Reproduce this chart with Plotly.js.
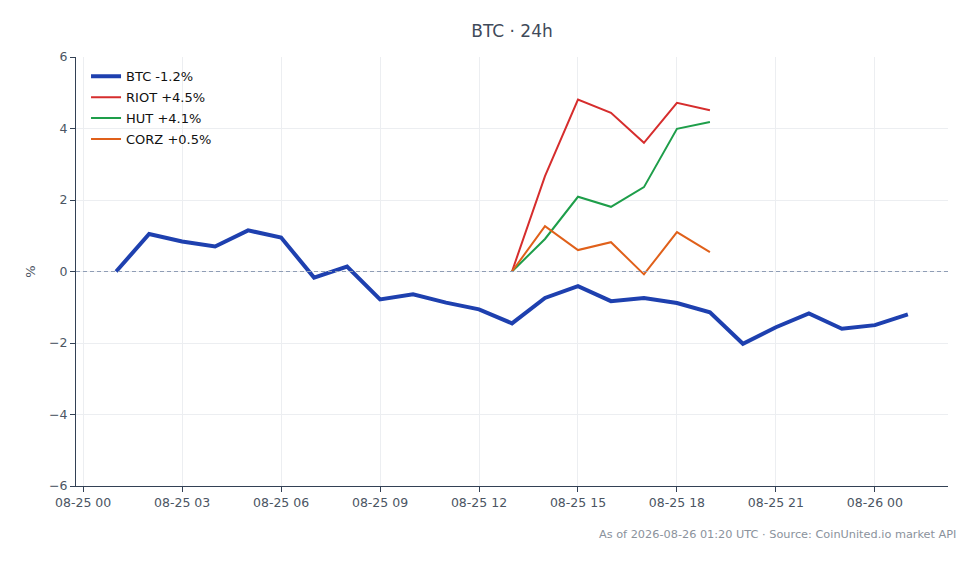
<!DOCTYPE html>
<html>
<head>
<meta charset="utf-8">
<script src="https://cdn.plot.ly/plotly-3.0.1.min.js"></script>
<style>
  html, body { margin: 0; padding: 0; background: #fff; }
  #chart { width: 980px; height: 564px; }
</style>
</head>
<body>
<div id="chart"></div>
<script>
// hourly timestamps, 08-25 01:00 -> 08-26 01:00 (UTC)
const times = [
  '2026-08-25 01:00', '2026-08-25 02:00', '2026-08-25 03:00', '2026-08-25 04:00',
  '2026-08-25 05:00', '2026-08-25 06:00', '2026-08-25 07:00', '2026-08-25 08:00',
  '2026-08-25 09:00', '2026-08-25 10:00', '2026-08-25 11:00', '2026-08-25 12:00',
  '2026-08-25 13:00', '2026-08-25 14:00', '2026-08-25 15:00', '2026-08-25 16:00',
  '2026-08-25 17:00', '2026-08-25 18:00', '2026-08-25 19:00', '2026-08-25 20:00',
  '2026-08-25 21:00', '2026-08-25 22:00', '2026-08-25 23:00', '2026-08-26 00:00',
  '2026-08-26 01:00'
];
const btcPct = [0, 1.05, 0.84, 0.70, 1.15, 0.95, -0.17, 0.14, -0.78, -0.64, -0.87, -1.06,
  -1.45, -0.74, -0.41, -0.83, -0.74, -0.88, -1.14, -2.02, -1.56, -1.17, -1.60, -1.50, -1.20];

// miners only have data from 13:00 to 19:00
const minerTimes = times.slice(12, 19);
const riotPct = [0, 2.67, 4.81, 4.44, 3.60, 4.72, 4.51];
const hutPct = [0, 0.91, 2.09, 1.81, 2.36, 3.99, 4.18];
const corzPct = [0, 1.27, 0.60, 0.82, -0.08, 1.10, 0.54];

const seriesNames = ['BTC -1.2%', 'RIOT +4.5%', 'HUT +4.1%', 'CORZ +0.5%'];
const footerText = 'As of 2026-08-26 01:20 UTC · Source: CoinUnited.io market API';

const font = 'DejaVu Sans, sans-serif';

// each trace in its own legend group so tracegroupgap spaces the rows a bit
const traces = [
  { x: times, y: btcPct, type: 'scatter', mode: 'lines', name: seriesNames[0], legendgroup: 'btc',
    line: {color: '#1e40af', width: 4} },
  { x: minerTimes, y: riotPct, type: 'scatter', mode: 'lines', name: seriesNames[1], legendgroup: 'riot',
    line: {color: '#d62d2d', width: 2} },
  { x: minerTimes, y: hutPct, type: 'scatter', mode: 'lines', name: seriesNames[2], legendgroup: 'hut',
    line: {color: '#1e9e4a', width: 2} },
  { x: minerTimes, y: corzPct, type: 'scatter', mode: 'lines', name: seriesNames[3], legendgroup: 'corz',
    line: {color: '#e0601a', width: 2} }
];

const layout = {
  width: 980, height: 564,
  margin: {l: 76, r: 32, t: 57, b: 78},
  paper_bgcolor: '#fff', plot_bgcolor: '#fff',
  font: {family: font, size: 13, color: '#4b5563'},
  title: {text: 'BTC · 24h', font: {family: font, size: 17, color: '#3f4a5a'},
    xref: 'paper', x: 0.5, xanchor: 'center', yref: 'container', y: 0.945, yanchor: 'middle'},
  showlegend: true,
  legend: {x: 0.0115, y: 0.99, xanchor: 'left', yanchor: 'top', bgcolor: 'rgba(255,255,255,0)',
    traceorder: 'grouped', tracegroupgap: 1,
    font: {family: font, size: 13, color: '#111'}},
  xaxis: {
    type: 'date',
    range: ['2026-08-24 23:47', '2026-08-26 02:13'],
    dtick: 3 * 3600 * 1000, tick0: '2026-08-25 00:00',
    tickformat: '%m-%d %H',
    ticks: 'outside', ticklen: 5, tickcolor: '#334155',
    showline: true, linecolor: '#334155', linewidth: 1,
    showgrid: true, gridcolor: '#eceef1',
    zeroline: false,
    tickfont: {family: font, size: 12.5, color: '#4b5563'}
  },
  yaxis: {
    range: [-6, 6], dtick: 2,
    ticks: 'outside', ticklen: 5, tickcolor: '#334155',
    showline: true, linecolor: '#334155', linewidth: 1,
    showgrid: true, gridcolor: '#eceef1',
    zeroline: false,
    title: {text: '%', font: {family: font, size: 13, color: '#4b5563'}, standoff: 10},
    tickfont: {family: font, size: 12.5, color: '#4b5563'}
  },
  shapes: [
    { type: 'line', xref: 'paper', yref: 'y', x0: 0, x1: 1, y0: 0, y1: 0,
      line: {color: '#8f9db5', width: 1, dash: '4px,3px'} }
  ],
  annotations: [
    { text: footerText, xref: 'paper', yref: 'paper', x: 1.0115, y: -0.112,
      xanchor: 'right', yanchor: 'middle', showarrow: false,
      font: {family: font, size: 11.3, color: '#8a929c'} }
  ]
};

Plotly.newPlot('chart', traces, layout, {displayModeBar: false, responsive: false});
</script>
</body>
</html>
